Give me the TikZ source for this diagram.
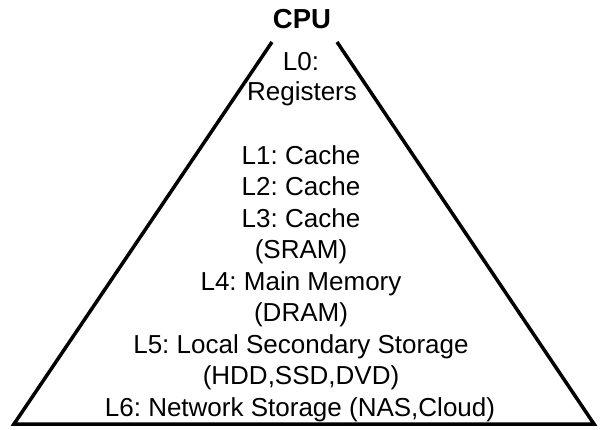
\documentclass[tikz,border=0pt]{standalone}
\usepackage{fontspec}
\setmainfont{Liberation Sans}
\frenchspacing
\begin{document}
\begin{tikzpicture}[x=1pt,y=1pt,
  lvl/.style={anchor=base,inner sep=0pt,font=\frenchspacing\fontsize{26}{31.5}\selectfont},
  cpu/.style={anchor=base,inner sep=0pt,font=\bfseries\fontsize{27.5}{30}\selectfont},
  pyr/.style={line width=3.5pt,line join=miter}]
\useasboundingbox (0,0) rectangle (601,429);
\coordinate (tl) at (272,387);
\coordinate (bl) at (14,5);
\coordinate (br) at (594,5);
\coordinate (tr) at (337,387);
\draw[pyr] (tl) -- (bl) -- (br) -- (tr);
\node[cpu] (cpu) at (302,400) {CPU};
\node[lvl] (l0a) at (301,358) {L0:};
\node[lvl] (l0b) at (302,328) {Registers};
\node[lvl] (l1) at (301,265) {L1: Cache};
\node[lvl] (l2) at (301,234) {L2: Cache};
\node[lvl] (l3) at (301,202) {L3: Cache};
\node[lvl] (l3b) at (301,171) {(SRAM)};
\node[lvl] (l4) at (301,139) {L4: Main Memory};
\node[lvl] (l4b) at (301,108) {(DRAM)};
\node[lvl] (l5) at (301,76) {L5: Local Secondary Storage};
\node[lvl] (l5b) at (301,45) {(HDD,SSD,DVD)};
\node[lvl] (l6) at (300,13) {L6: Network Storage (NAS,Cloud)};
\end{tikzpicture}
\end{document}
